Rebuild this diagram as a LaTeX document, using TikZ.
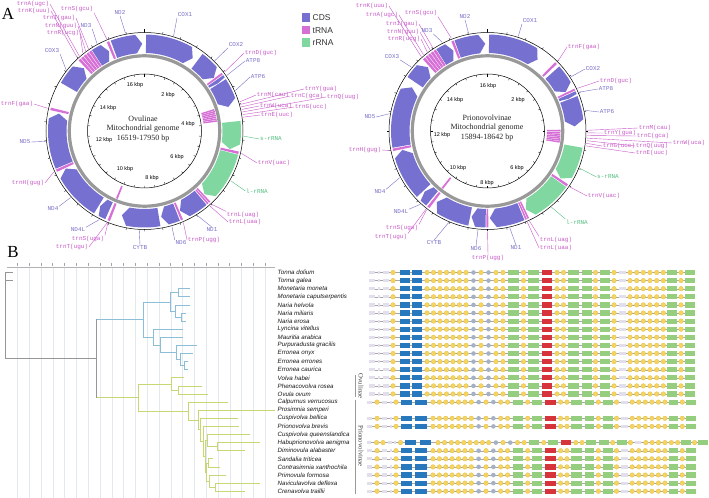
\documentclass[tikz,border=0pt]{standalone}
\usepackage{fontspec}
\setmainfont{Liberation Serif}
\setsansfont{Liberation Sans}
\setmonofont{Liberation Mono}
\usetikzlibrary{calc}
\definecolor{cdsC}{RGB}{118,112,208}
\definecolor{trnC}{RGB}{214,112,214}
\definecolor{rrC}{RGB}{128,216,160}
\definecolor{cdsT}{RGB}{120,112,200}
\definecolor{trnT}{RGB}{200,90,200}
\definecolor{rrT}{RGB}{80,190,125}
\definecolor{trBc}{RGB}{140,190,215}
\definecolor{trGc}{RGB}{198,216,118}
\definecolor{trKc}{RGB}{150,150,150}
\definecolor{gridc}{RGB}{226,234,240}
\definecolor{goYc}{RGB}{245,212,96}
\definecolor{goYd}{RGB}{230,192,72}
\definecolor{goGc}{RGB}{165,178,198}
\definecolor{goBc}{RGB}{40,120,190}
\definecolor{goNc}{RGB}{150,206,128}
\definecolor{goRc}{RGB}{214,52,58}
\definecolor{goDc}{RGB}{226,222,236}

\newcommand{\featband}[6]{%
  \pgfmathsetmacro{\fbA}{90-(#2)}%
  \pgfmathsetmacro{\fbB}{90-(#3)}%
  \fill[#6] ($(#1)+(\fbA:#5)$) arc[start angle=\fbA, end angle=\fbB, radius=#5bp] -- ($(#1)+(\fbB:#4)$) arc[start angle=\fbB, end angle=\fbA, radius=#4bp] -- cycle;%
}
\newcommand{\featarrow}[6]{%
  \pgfmathsetmacro{\fbA}{90-(#2)}%
  \pgfmathsetmacro{\fbT}{90-(#3)}%
  \pgfmathsetmacro{\fbB}{\fbT+min(4,((#3)-(#2))/3)}%
  \pgfmathsetmacro{\fbM}{((#4)+(#5))/2}%
  \fill[#6] ($(#1)+(\fbA:#5)$) arc[start angle=\fbA, end angle=\fbB, radius=#5bp] -- ($(#1)+(\fbT:\fbM)$) -- ($(#1)+(\fbB:#4)$) arc[start angle=\fbB, end angle=\fbA, radius=#4bp] -- cycle;%
}
\newcommand{\glabel}[7]{%
  \node[glab, text=#7T] (#1) at (#5) {#4};%
  \draw[#7T, line width=0.4bp] ($(#2)+({90-(#3)}:99.5)$) -- (#1.#6);%
}
\newcommand{\gotail}[3]{%
  \foreach \gx in {427,433.5,440,446.5,453,459.5,466,481,496,503,523.5,557,563.5,595.5,614,630,636.7,643.3,650,656.7,663.3,681}
    {\fill[goY] ({#2+#3*\gx},#1) circle[radius=2.3bp];}
  \foreach \gx in {473.5,488.5}
    {\fill[goG] ({#2+#3*\gx},#1) circle[radius=2.3bp];}
  \foreach \ga/\gb in {508/519,528/538.5,568/578.5,581.5/591.5,600/610,667/677,685/695}
    {\fill[goN] ({#2+#3*\ga},{#1-2.6}) rectangle ({#2+#3*\gb},{#1+2.6});}
  \fill[goR] ({#2+#3*541.5},{#1-2.6}) rectangle ({#2+#3*552},{#1+2.6});
  \fill[goD] ({#2+#3*618.5},{#1-1.6}) rectangle ({#2+#3*625.5},{#1+1.6});
}
\newcommand{\goheadO}[1]{%
  \foreach \ga/\gb in {369/375,377.5/380,382.5/388.5} {\fill[goD] (\ga,{#1-1.6}) rectangle (\gb,{#1+1.6});}
  \fill[goY] (393,#1) circle[radius=2.3bp];
  \foreach \ga/\gb in {399.5/409.5,411.5/421.5} {\fill[goB] (\ga,{#1-2.6}) rectangle (\gb,{#1+2.6});}
}
\newcommand{\goheadP}[1]{%
  \foreach \ga/\gb in {366.5/372,382/387,389.5/391.5} {\fill[goD] (\ga,{#1-1.6}) rectangle (\gb,{#1+1.6});}
  \foreach \gx in {377,396} {\fill[goY] (\gx,#1) circle[radius=2.3bp];}
  \foreach \ga/\gb in {401/412,415/426.5} {\fill[goB] (\ga,{#1-2.6}) rectangle (\gb,{#1+2.6});}
}
\newcommand{\goheadH}[1]{%
  \foreach \ga/\gb in {366.5/370.5,387.5/392,394/396} {\fill[goD] (\ga,{#1-1.6}) rectangle (\gb,{#1+1.6});}
  \foreach \gx in {376.5,383,400.5,438,444.5} {\fill[goY] (\gx,#1) circle[radius=2.3bp];}
  \foreach \ga/\gb in {405/416,419.5/431} {\fill[goB] (\ga,{#1-2.6}) rectangle (\gb,{#1+2.6});}
}

\begin{document}
\begin{tikzpicture}[x=1bp,y=1bp,
  glab/.style={font=\ttfamily\fontsize{6}{6}\selectfont, inner sep=0.6bp},
  fcds/.style={fill=cdsC}, ftrn/.style={fill=trnC}, frr/.style={fill=rrC},
  sclab/.style={font=\sffamily\fontsize{5.5}{6}\selectfont, inner sep=0pt},
  ctxt/.style={font=\fontsize{8}{9}\selectfont, text=black!85},
  spn/.style={font=\sffamily\itshape\fontsize{6.2}{7}\selectfont, anchor=west, inner sep=0pt, text=black!90},
  trB/.style={draw=trBc, line width=0.7bp},
  trG/.style={draw=trGc, line width=0.7bp},
  trK/.style={draw=trKc, line width=0.7bp},
  goline/.style={draw=gray!70, line width=0.4bp},
  goY/.style={fill=goYc, draw=goYd, line width=0.3bp},
  goG/.style={fill=goGc},
  goB/.style={fill=goBc},
  goN/.style={fill=goNc},
  goR/.style={fill=goRc},
  goD/.style={fill=goDc},
  leg/.style={font=\sffamily\fontsize{8.5}{9}\selectfont, anchor=west, inner sep=0pt, text=black!80}
]
\useasboundingbox (0,0) rectangle (709,-498);
\fill[white] (0,0) rectangle (709,-498);

% ---------------- Panel labels ----------------
\node[font=\fontsize{17}{17}\selectfont, inner sep=0pt] (labA) at (8,-14) {A};
\node[font=\fontsize{17}{17}\selectfont, inner sep=0pt] (labB) at (13,-252) {B};

% ---------------- Legend ----------------
\fill[fcds] (301.5,-13.5) rectangle (310,-22);
\node[leg] (legC) at (312.5,-17.8) {CDS};
\fill[ftrn] (301.5,-26) rectangle (310,-34.5);
\node[leg] (legT) at (312.5,-30.3) {tRNA};
\fill[frr] (301.5,-38.5) rectangle (310,-47);
\node[leg] (legR) at (312.5,-42.8) {rRNA};

% ================= LEFT MAP =================
\coordinate (L) at (144.5,-131);
\draw[line width=0.5bp] (L) circle[radius=98.5bp];
\foreach \k in {0,...,33} {\draw[line width=0.35bp] ($(L)+({90-\k*10.588}:98.5)$) -- ($(L)+({90-\k*10.588}:100.5)$);}
\draw[line width=1.2bp] ($(L)+(90:98.5)$) -- ($(L)+(90:102)$);
% outer features
\featarrow{L}{1}{33.5}{78}{96.5}{fcds}
\featarrow{L}{37}{52.5}{78}{96.5}{fcds}
\featband{L}{53}{54.2}{78}{96.5}{ftrn}
\featarrow{L}{54.7}{57}{78}{96.5}{fcds}
\featarrow{L}{57.5}{74}{78}{96.5}{fcds}
\featarrow{L}{84}{102}{78}{96.5}{frr}
\featband{L}{102.3}{103.8}{78}{96.5}{ftrn}
\featarrow{L}{104.2}{136.5}{78}{96.5}{frr}
\featband{L}{137}{138}{78}{96.5}{ftrn}
\featband{L}{138.4}{139.4}{78}{96.5}{ftrn}
\featarrow{L}{140}{156}{78}{96.5}{fcds}
\featband{L}{156.5}{157.8}{78}{96.5}{ftrn}
\featarrow{L}{158.5}{169}{78}{96.5}{fcds}
\featarrow{L}{170.5}{195}{78}{96.5}{fcds}
\featband{L}{201}{202.5}{78}{96.5}{ftrn}
\featarrow{L}{204}{210.5}{78}{96.5}{fcds}
\featarrow{L}{211.5}{244.5}{78}{96.5}{fcds}
\featband{L}{245}{246.5}{78}{96.5}{ftrn}
\featarrow{L}{247}{281.5}{78}{96.5}{fcds}
\featband{L}{282.5}{284}{78}{96.5}{ftrn}
\featarrow{L}{300}{316}{78}{96.5}{fcds}
\foreach \t in {317,319,321,323,325} {\featband{L}{\t}{\t+1.6}{78}{96.5}{ftrn}}
\featarrow{L}{327}{336}{78}{96.5}{fcds}
\featband{L}{337}{338.5}{78}{96.5}{ftrn}
\featarrow{L}{339.5}{358.5}{78}{96.5}{fcds}
% grey ring
\draw[line width=3.2bp, color=gray!80] (L) circle[radius=75.2bp];
% inner features
\foreach \t in {72.5,74,75.5,77,78.5,80,81.5} {\featband{L}{\t}{\t+1.2}{59.5}{73}{ftrn}}
\featband{L}{201.5}{203}{59.5}{73}{ftrn}
% scale circle
\draw[line width=0.5bp] (L) circle[radius=57bp];
\foreach \k in {0,...,33} {\draw[line width=0.35bp] ($(L)+({90-\k*10.588}:57)$) -- ($(L)+({90-\k*10.588}:55)$);}
\draw[line width=1.2bp] ($(L)+(90:57)$) -- ($(L)+(90:53.5)$);
\node[sclab] (ls16) at (135,-85) {16 kbp};
\node[sclab] (ls2) at (168,-95) {2 kbp};
\node[sclab] (ls4) at (188,-124) {4 kbp};
\node[sclab] (ls6) at (177,-157) {6 kbp};
\node[sclab] (ls8) at (152,-178) {8 kbp};
\node[sclab] (ls10) at (125,-169) {10 kbp};
\node[sclab] (ls12) at (104,-140) {12 kbp};
\node[sclab] (ls14) at (108,-108) {14 kbp};
\node[ctxt] (lt1) at (143,-119) {Ovulinae};
\node[ctxt] (lt2) at (143,-129) {Mitochondrial genome};
\node[ctxt] (lt3) at (143,-139) {16519-17950 bp};
% labels
\glabel{aTA}{L}{319}{trnA(ugc)}{33,-4}{east}{trn}
\glabel{aTK}{L}{317.5}{trnK(uuu)}{34,-11}{east}{trn}
\glabel{aTSa}{L}{337.7}{trnS(gcu)}{77,-9}{south east}{trn}
\glabel{aNDb}{L}{349}{ND2}{120,-13}{south}{cds}
\glabel{aCOXa}{L}{17}{COX1}{185,-15}{south west}{cds}
\glabel{aTI}{L}{325.7}{trnI(gau)}{59,-18}{east}{trn}
\glabel{aTN}{L}{323.7}{trnN(guu)}{61,-26}{east}{trn}
\glabel{aNDc}{L}{331.5}{ND3}{86,-26}{south east}{cds}
\glabel{aTR}{L}{321.7}{trnR(ucg)}{63,-33}{east}{trn}
\glabel{aCOXc}{L}{308}{COX3}{52,-51}{south east}{cds}
\glabel{aCOXb}{L}{45}{COX2}{236,-45}{south west}{cds}
\glabel{aTD}{L}{53.6}{trnD(guc)}{261,-53}{west}{trn}
\glabel{aATPh}{L}{56}{ATP8}{253,-61}{west}{cds}
\glabel{aATPf}{L}{66}{ATP6}{258,-77}{west}{cds}
\glabel{aTM}{L}{73}{trnM(cau)}{273,-95}{west}{trn}
\glabel{aTY}{L}{74.5}{trnY(gua)}{321,-89}{west}{trn}
\glabel{aTC}{L}{76}{trnC(gca)}{307,-96}{west}{trn}
\glabel{aTW}{L}{77.5}{trnW(uca)}{276,-106}{west}{trn}
\glabel{aTQ}{L}{79}{trnQ(uug)}{343,-97}{west}{trn}
\glabel{aTG}{L}{80.5}{trnG(ucc)}{311,-107}{west}{trn}
\glabel{aTE}{L}{82}{trnE(uuc)}{277,-115}{west}{trn}
\glabel{aSR}{L}{93}{s-rRNA}{271,-139}{west}{rr}
\glabel{aTV}{L}{103}{trnV(uac)}{274,-163}{west}{trn}
\glabel{aLR}{L}{120}{l-rRNA}{257,-191}{west}{rr}
\glabel{aTLa}{L}{137.5}{trnL(uag)}{243,-215}{north west}{trn}
\glabel{aTLb}{L}{138.9}{trnL(uaa)}{245,-222}{west}{trn}
\glabel{aNDa}{L}{148}{ND1}{212,-230}{north}{cds}
\glabel{aTP}{L}{157}{trnP(ugg)}{204,-240}{west}{trn}
\glabel{aNDf}{L}{164}{ND6}{181,-243}{north west}{cds}
\glabel{aCYTB}{L}{183}{CYTB}{140,-248}{north}{cds}
\glabel{aNDl}{L}{207}{ND4L}{78,-230}{north east}{cds}
\glabel{aTSb}{L}{201.7}{trnS(uga)}{88,-239}{north east}{trn}
\glabel{aTT}{L}{202.2}{trnT(ugu)}{72,-247}{east}{trn}
\glabel{aNDd}{L}{228}{ND4}{53,-209}{north east}{cds}
\glabel{aTH}{L}{245.7}{trnH(gug)}{28,-183}{east}{trn}
\glabel{aNDe}{L}{264}{ND5}{25,-142}{east}{cds}
\glabel{aTF}{L}{283.2}{trnF(gaa)}{17,-104}{east}{trn}

% ================= RIGHT MAP =================
\coordinate (R) at (487.5,-131);
\draw[line width=0.5bp] (R) circle[radius=98.5bp];
\foreach \k in {0,...,31} {\draw[line width=0.35bp] ($(R)+({90-\k*11.25}:98.5)$) -- ($(R)+({90-\k*11.25}:100.5)$);}
\draw[line width=1.2bp] ($(R)+(90:98.5)$) -- ($(R)+(90:102)$);
\featarrow{R}{1}{35}{78}{96.5}{fcds}
\featband{R}{44.5}{46}{78}{96.5}{ftrn}
\featarrow{R}{48}{63.5}{78}{96.5}{fcds}
\featband{R}{64}{65.2}{78}{96.5}{ftrn}
\featarrow{R}{65.7}{68.3}{78}{96.5}{fcds}
\featarrow{R}{68.8}{87}{78}{96.5}{fcds}
\featarrow{R}{100}{123}{78}{96.5}{frr}
\featband{R}{123.5}{125}{78}{96.5}{ftrn}
\featarrow{R}{125.5}{154}{78}{96.5}{frr}
\featband{R}{154.5}{155.5}{78}{96.5}{ftrn}
\featband{R}{155.9}{156.9}{78}{96.5}{ftrn}
\featarrow{R}{157.5}{178.5}{78}{96.5}{fcds}
\featband{R}{179.5}{180.7}{78}{96.5}{ftrn}
\featarrow{R}{181.2}{190.5}{78}{96.5}{fcds}
\featarrow{R}{191.5}{215.5}{78}{96.5}{fcds}
\featband{R}{217}{218.5}{78}{96.5}{ftrn}
\featarrow{R}{219.5}{226}{78}{96.5}{fcds}
\featarrow{R}{227}{257.5}{78}{96.5}{fcds}
\featband{R}{258}{259.5}{78}{96.5}{ftrn}
\featarrow{R}{260}{300}{78}{96.5}{fcds}
\featarrow{R}{304}{317}{78}{96.5}{fcds}
\foreach \t in {318,320,322,324,326} {\featband{R}{\t}{\t+1.6}{78}{96.5}{ftrn}}
\featarrow{R}{328}{337}{78}{96.5}{fcds}
\featband{R}{338}{339.5}{78}{96.5}{ftrn}
\featarrow{R}{340}{358.5}{78}{96.5}{fcds}
\draw[line width=3.2bp, color=gray!80] (R) circle[radius=75.2bp];
\foreach \t in {89,90.5,92,93.5,95,96.5,98} {\featband{R}{\t}{\t+1.2}{59.5}{73}{ftrn}}
\featband{R}{217.5}{219}{59.5}{73}{ftrn}
\draw[line width=0.5bp] (R) circle[radius=57bp];
\foreach \k in {0,...,31} {\draw[line width=0.35bp] ($(R)+({90-\k*11.25}:57)$) -- ($(R)+({90-\k*11.25}:55)$);}
\draw[line width=1.2bp] ($(R)+(90:57)$) -- ($(R)+(90:53.5)$);
\node[sclab] (rs16) at (488,-86) {16 kbp};
\node[sclab] (rs2) at (518,-100) {2 kbp};
\node[sclab] (rs6) at (517,-168) {6 kbp};
\node[sclab] (rs8) at (487,-183) {8 kbp};
\node[sclab] (rs10) at (458,-168) {10 kbp};
\node[sclab] (rs12) at (442,-135) {12 kbp};
\node[sclab] (rs14) at (455,-100) {14 kbp};
\node[ctxt] (rt1) at (487,-118) {Prionovolvinae};
\node[ctxt] (rt2) at (487,-128) {Mitochondrial genome};
\node[ctxt] (rt3) at (487,-138) {15894-18642 bp};
\glabel{bTK}{R}{318.3}{trnK(uuu)}{372,-6}{east}{trn}
\glabel{bTA}{R}{320}{trnA(ugc)}{382,-15}{east}{trn}
\glabel{bTSa}{R}{338.7}{trnS(gcu)}{421,-13}{south east}{trn}
\glabel{bNDb}{R}{349}{ND2}{465,-17}{south}{cds}
\glabel{bCOXa}{R}{18}{COX1}{530,-21}{south west}{cds}
\glabel{bTI}{R}{326.7}{trnI(gau)}{402,-24}{east}{trn}
\glabel{bTN}{R}{324.7}{trnN(guu)}{403,-32}{east}{trn}
\glabel{bNDc}{R}{333}{ND3}{427,-31}{south east}{cds}
\glabel{bTR}{R}{322.7}{trnR(ucg)}{404,-39}{east}{trn}
\glabel{bCOXc}{R}{310}{COX3}{392,-57}{south east}{cds}
\glabel{bTF}{R}{45.2}{trnF(gaa)}{584,-47}{west}{trn}
\glabel{bCOXb}{R}{57}{COX2}{593,-69}{west}{cds}
\glabel{bTD}{R}{64.6}{trnD(guc)}{616,-81}{west}{trn}
\glabel{bATPh}{R}{67}{ATP8}{606,-89}{west}{cds}
\glabel{bATPf}{R}{78}{ATP6}{607,-112}{west}{cds}
\glabel{bTM}{R}{89.6}{trnM(cau)}{655,-128}{west}{trn}
\glabel{bTY}{R}{91.1}{trnY(gua)}{620,-133}{west}{trn}
\glabel{bTC}{R}{92.6}{trnC(gca)}{653,-136}{west}{trn}
\glabel{bTW}{R}{94.1}{trnW(uca)}{689,-143}{west}{trn}
\glabel{bTQ}{R}{95.6}{trnQ(uug)}{652,-146}{west}{trn}
\glabel{bTG}{R}{97.1}{trnG(ucc)}{619,-146}{west}{trn}
\glabel{bTE}{R}{98.6}{trnE(uuc)}{652,-153}{west}{trn}
\glabel{bSR}{R}{112}{s-rRNA}{608,-177}{west}{rr}
\glabel{bTV}{R}{124.2}{trnV(uac)}{604,-196}{west}{trn}
\glabel{bLR}{R}{140}{l-rRNA}{577,-222}{north west}{rr}
\glabel{bTLa}{R}{155}{trnL(uag)}{556,-240}{north west}{trn}
\glabel{bTLb}{R}{156.4}{trnL(uaa)}{556,-248}{west}{trn}
\glabel{bNDa}{R}{167}{ND1}{516,-248}{north}{cds}
\glabel{bTP}{R}{180}{trnP(ugg)}{488,-258}{north}{trn}
\glabel{bNDf}{R}{185.5}{ND6}{476,-249}{north}{cds}
\glabel{bCYTB}{R}{203}{CYTB}{434,-243}{north}{cds}
\glabel{bNDl}{R}{222.5}{ND4L}{401,-212}{north east}{cds}
\glabel{bTSb}{R}{217.7}{trnS(uga)}{402,-228}{north east}{trn}
\glabel{bTT}{R}{218.2}{trnT(ugu)}{391,-237}{north east}{trn}
\glabel{bNDd}{R}{242}{ND4}{380,-192}{north east}{cds}
\glabel{bTH}{R}{258.7}{trnH(gug)}{365,-150}{east}{trn}
\glabel{bNDe}{R}{280}{ND5}{370,-117}{east}{cds}

% ================= PANEL B : tree =================
\foreach \k in {0,...,21} {
  \draw[gridc, line width=0.4bp] ({17.3+11.8*\k},-268) -- ({17.3+11.8*\k},-498);
  \draw[gray!70, line width=0.5bp] ({17.3+11.8*\k},-262.5) -- ({17.3+11.8*\k},-265.5);
}
\draw[gray!60, line width=0.4bp] (7,-267.3) -- (275,-267.3);
% outgroup / root
\draw[trK] (5,-272.5) -- (5,-358.5) -- (96.7,-358.5);
\draw[trK] (5,-272.5) -- (13,-272.5);
\draw[trK] (5,-280.6) -- (13,-280.6);
\draw[trK] (96.7,-319.45) -- (96.7,-397.5);
% Cypraeidae
\draw[trB] (96.7,-319.45) -- (143.3,-319.45);
\draw[trB] (170,-301.86) -- (143.3,-301.86) -- (143.3,-337.05) -- (153,-337.05);
\draw[trB] (178,-292.75) -- (170,-292.75) -- (170,-310.98) -- (175,-310.98);
\draw[trB] (190,-288.7) -- (178,-288.7) -- (178,-296.8) -- (190,-296.8);
\draw[trB] (190,-304.9) -- (175,-304.9) -- (175,-317.05) -- (181,-317.05);
\draw[trB] (186,-313) -- (181,-313) -- (181,-321.1) -- (186,-321.1);
\draw[trB] (183,-329.2) -- (153,-329.2) -- (153,-344.9) -- (160,-344.9);
\draw[trB] (183,-337.3) -- (160,-337.3) -- (160,-352.49) -- (176,-352.49);
\draw[trB] (197,-345.4) -- (176,-345.4) -- (176,-359.58) -- (180,-359.58);
\draw[trB] (193,-353.5) -- (180,-353.5) -- (180,-365.65) -- (184,-365.65);
\draw[trB] (188,-361.6) -- (184,-361.6) -- (184,-369.7) -- (188,-369.7);
% Ovulidae
\draw[trG] (96.7,-397.5) -- (138.3,-397.5);
\draw[trG] (171.7,-383.88) -- (138.3,-383.88) -- (138.3,-411.05) -- (188.3,-411.05);
\draw[trG] (184,-377.8) -- (171.7,-377.8) -- (171.7,-389.95) -- (178,-389.95);
\draw[trG] (202,-385.9) -- (178,-385.9) -- (178,-394) -- (208,-394);
\draw[trG] (228,-402.1) -- (188.3,-402.1) -- (188.3,-420) -- (198.3,-420);
\draw[trG] (275,-410.2) -- (198.3,-410.2) -- (198.3,-429.8) -- (200.5,-429.8);
\draw[trG] (238,-418.3) -- (200.5,-418.3) -- (200.5,-441.3) -- (203,-441.3);
\draw[trG] (239,-426.4) -- (203,-426.4) -- (203,-456.27) -- (205,-456.27);
\draw[trG] (207,-440.58) -- (205,-440.58) -- (205,-471.96) -- (206,-471.96);
\draw[trG] (250,-434.5) -- (207,-434.5) -- (207,-446.65) -- (217,-446.65);
\draw[trG] (260,-442.6) -- (217,-442.6) -- (217,-450.7) -- (245,-450.7);
\draw[trG] (208,-462.85) -- (206,-462.85) -- (206,-481.08) -- (209,-481.08);
\draw[trG] (213,-458.8) -- (208,-458.8) -- (208,-466.9) -- (220,-466.9);
\draw[trG] (226,-475) -- (209,-475) -- (209,-487.15) -- (215,-487.15);
\draw[trG] (260,-483.1) -- (215,-483.1) -- (215,-491.2) -- (245,-491.2);

% species names
\foreach \n [count=\i from 0] in {Tonna dolium, Tonna galea, Monetaria moneta, Monetaria caputserpentis, Naria helvola, Naria miliaris, Naria erosa, Lyncina vitellus, Mauritia arabica, Purpuradusta gracilis, Erronea onyx, Erronea errones, Erronea caurica, Volva habei, Phenacovolva rosea, Ovula ovum, Calpurnus verrucosus, Prosimnia semperi, Cuspivolva bellica, Prionovolva brevis, Cuspivolva queenslandica, Habuprionovolva aenigma, Diminovula alabaster, Sandalia triticea, Contrasimnia xanthochila, Primovula formosa, Naviculavolva deflexa, Crenavolva traillii}
  {\node[spn] (sp\i) at (277.5,{-272.5-8.1*\i}) {\n};}

% subfamily brackets
\draw[gray!80, line width=0.6bp] (355,-375) -- (355,-397);
\node[font=\fontsize{6.8}{7}\selectfont, rotate=-90, inner sep=0pt, text=black!75] (ovl) at (361,-386) {Ovulinae};
\draw[gray!80, line width=0.6bp] (355,-399.5) -- (355,-494);
\node[font=\fontsize{6.8}{7}\selectfont, rotate=-90, inner sep=0pt, text=black!75] (prv) at (361,-446) {Prionovolvinae};

% ================= gene order =================
\foreach \i in {0,...,15} {
  \pgfmathsetmacro{\yy}{-272.5-8.1*\i}
  \draw[goline] (369,\yy) -- (695,\yy);
  \goheadO{\yy}
  \gotail{\yy}{0}{1}
}
\foreach \i in {16,18,19,22,23,24,25,26,27} {
  \pgfmathsetmacro{\yy}{-272.5-8.1*\i}
  \draw[goline] (366.5,\yy) -- (696,\yy);
  \goheadP{\yy}
  \gotail{\yy}{14}{0.9813}
}
\draw[goline] (366.5,-442.6) -- (708,-442.6);
\goheadH{-442.6}
\gotail{-442.6}{42.4}{0.9577}
\end{tikzpicture}
\end{document}
